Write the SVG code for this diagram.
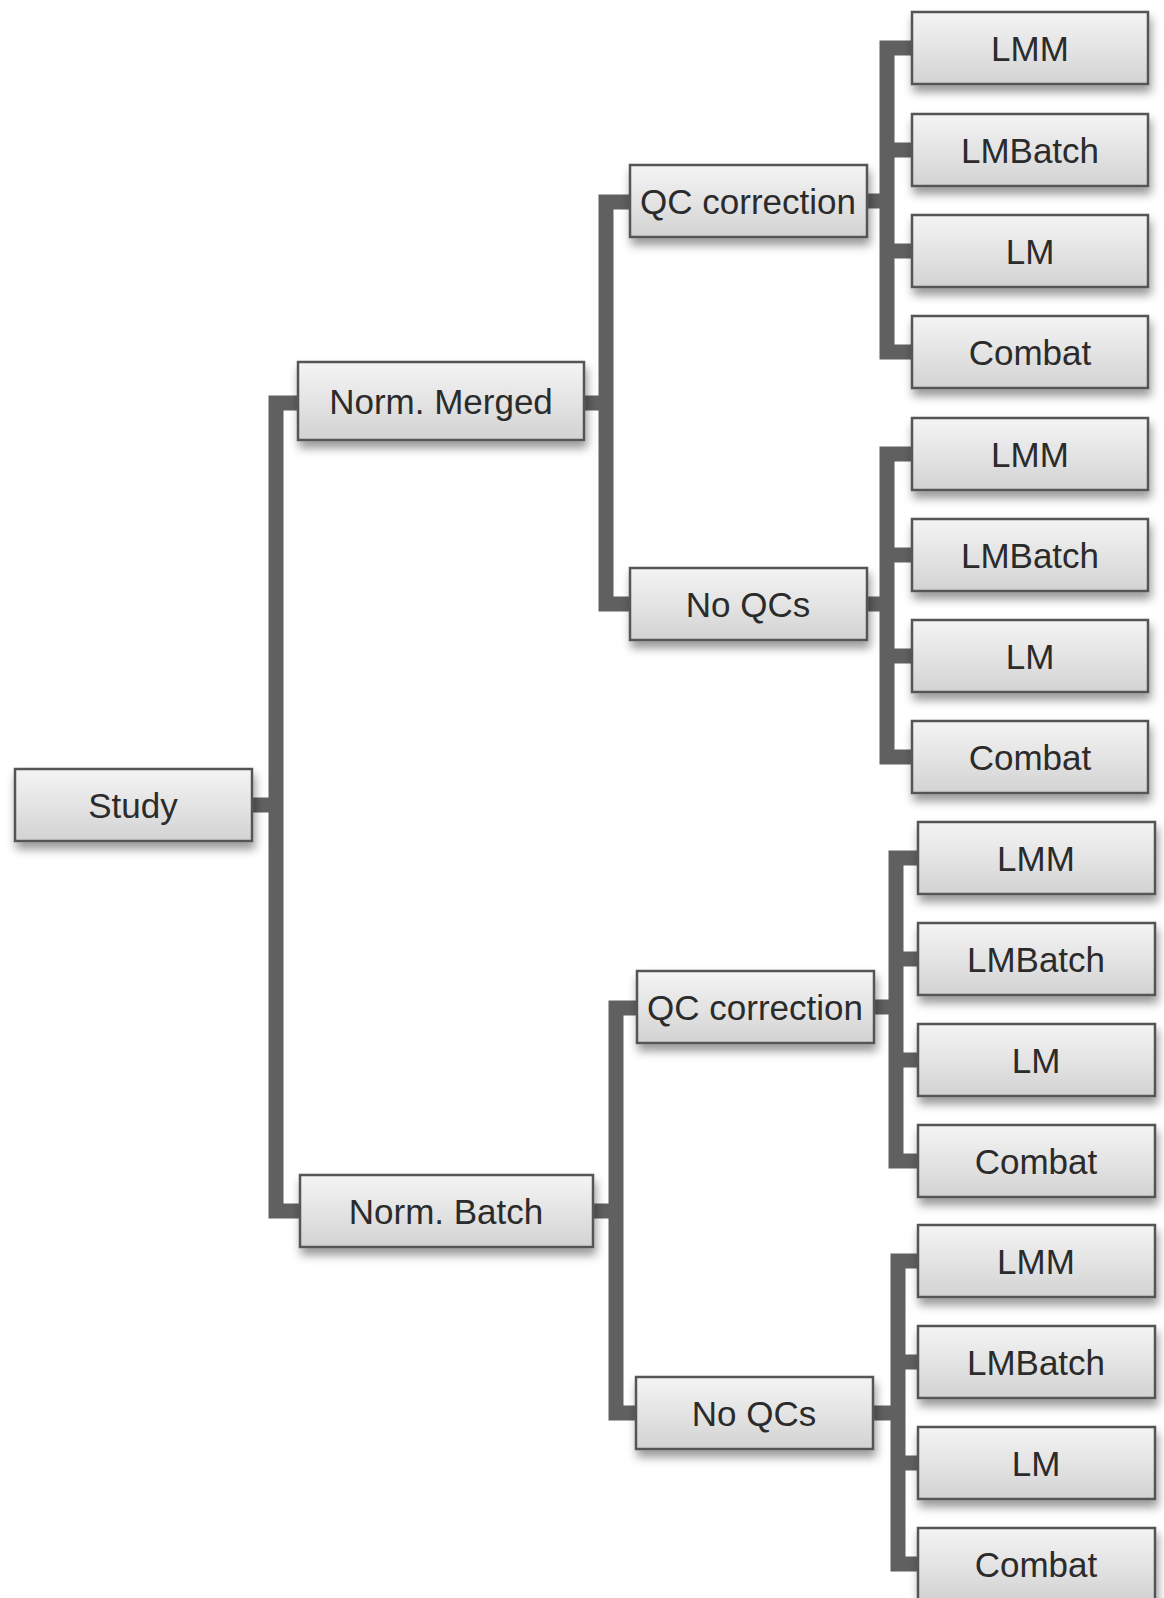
<svg xmlns="http://www.w3.org/2000/svg" width="1164" height="1598" viewBox="0 0 1164 1598">
<defs>
<linearGradient id="g" x1="0" y1="0" x2="0" y2="1">
<stop offset="0" stop-color="#f4f4f4"/>
<stop offset="0.5" stop-color="#e4e4e4"/>
<stop offset="1" stop-color="#d2d2d2"/>
</linearGradient>
<filter id="sh" x="-10%" y="-20%" width="125%" height="160%">
<feDropShadow dx="2" dy="7" stdDeviation="5" flood-color="#000" flood-opacity="0.4"/>
</filter>
</defs>
<style>
.box{fill:url(#g);stroke:#555;stroke-width:2.5;filter:url(#sh)}
.t{font-family:"Liberation Sans",Arial,sans-serif;font-size:35px;fill:#2b2b2b;text-anchor:middle}
.c{fill:none;stroke:#606060;stroke-width:15;stroke-linejoin:miter}
</style>
<rect width="1164" height="1598" fill="#fff"/>
<g id="connectors">
<path class="c" d="M252,805 H276"/>
<path class="c" d="M300,403 H276 V1211 H302"/>
<path class="c" d="M584,403 H606"/>
<path class="c" d="M632,202 H606 V604 H632"/>
<path class="c" d="M593,1211 H616"/>
<path class="c" d="M639,1008 H616 V1413 H638"/>
<path class="c" d="M867,201 H887"/>
<path class="c" d="M914,48 H887 V352 H914 M887,150 H914 M887,251 H914"/>
<path class="c" d="M867,604 H887"/>
<path class="c" d="M914,454 H887 V757 H914 M887,555 H914 M887,656 H914"/>
<path class="c" d="M874,1007 H896"/>
<path class="c" d="M920,858 H896 V1161 H920 M896,959 H920 M896,1060 H920"/>
<path class="c" d="M873,1413 H898"/>
<path class="c" d="M920,1261 H898 V1564 H920 M898,1362 H920 M898,1463 H920"/>
</g>
<g id="study"><rect class="box" x="15" y="769" width="237" height="72"/><text class="t" x="133" y="818">Study</text></g>
<g id="norm-merged"><rect class="box" x="298" y="362" width="286" height="78"/><text class="t" x="441" y="414">Norm. Merged</text></g>
<g id="norm-batch"><rect class="box" x="300" y="1175" width="293" height="72"/><text class="t" x="446" y="1224">Norm. Batch</text></g>
<g id="qc1"><rect class="box" x="630" y="165" width="237" height="72"/><text class="t" x="748" y="214">QC correction</text></g>
<g id="noqc1"><rect class="box" x="630" y="568" width="237" height="72"/><text class="t" x="748" y="617">No QCs</text></g>
<g id="qc2"><rect class="box" x="637" y="971" width="237" height="72"/><text class="t" x="755" y="1020">QC correction</text></g>
<g id="noqc2"><rect class="box" x="636" y="1377" width="237" height="72"/><text class="t" x="754" y="1426">No QCs</text></g>
<g id="l1a"><rect class="box" x="912" y="12" width="236" height="72"/><text class="t" x="1030" y="61">LMM</text></g>
<g id="l1b"><rect class="box" x="912" y="114" width="236" height="72"/><text class="t" x="1030" y="163">LMBatch</text></g>
<g id="l1c"><rect class="box" x="912" y="215" width="236" height="72"/><text class="t" x="1030" y="264">LM</text></g>
<g id="l1d"><rect class="box" x="912" y="316" width="236" height="72"/><text class="t" x="1030" y="365">Combat</text></g>
<g id="l2a"><rect class="box" x="912" y="418" width="236" height="72"/><text class="t" x="1030" y="467">LMM</text></g>
<g id="l2b"><rect class="box" x="912" y="519" width="236" height="72"/><text class="t" x="1030" y="568">LMBatch</text></g>
<g id="l2c"><rect class="box" x="912" y="620" width="236" height="72"/><text class="t" x="1030" y="669">LM</text></g>
<g id="l2d"><rect class="box" x="912" y="721" width="236" height="72"/><text class="t" x="1030" y="770">Combat</text></g>
<g id="l3a"><rect class="box" x="918" y="822" width="237" height="72"/><text class="t" x="1036" y="871">LMM</text></g>
<g id="l3b"><rect class="box" x="918" y="923" width="237" height="72"/><text class="t" x="1036" y="972">LMBatch</text></g>
<g id="l3c"><rect class="box" x="918" y="1024" width="237" height="72"/><text class="t" x="1036" y="1073">LM</text></g>
<g id="l3d"><rect class="box" x="918" y="1125" width="237" height="72"/><text class="t" x="1036" y="1174">Combat</text></g>
<g id="l4a"><rect class="box" x="918" y="1225" width="237" height="72"/><text class="t" x="1036" y="1274">LMM</text></g>
<g id="l4b"><rect class="box" x="918" y="1326" width="237" height="72"/><text class="t" x="1036" y="1375">LMBatch</text></g>
<g id="l4c"><rect class="box" x="918" y="1427" width="237" height="72"/><text class="t" x="1036" y="1476">LM</text></g>
<g id="l4d"><rect class="box" x="918" y="1528" width="237" height="72"/><text class="t" x="1036" y="1577">Combat</text></g>
</svg>
